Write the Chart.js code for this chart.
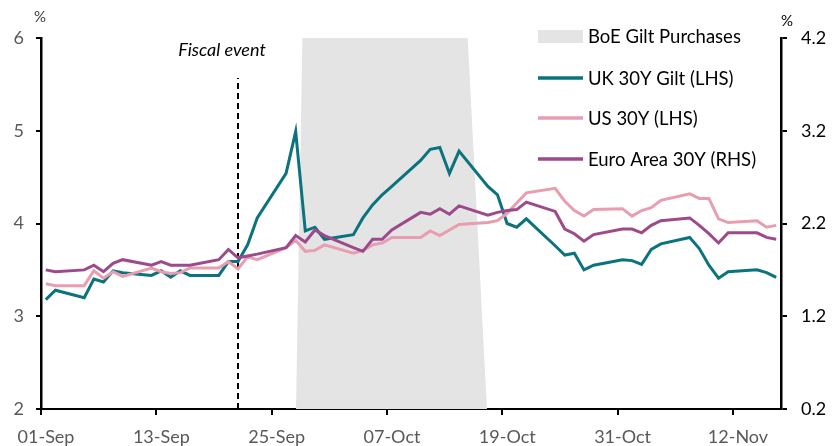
<!DOCTYPE html>
<html><head><meta charset="utf-8">
<script src="https://cdn.jsdelivr.net/npm/chart.js@4.4.1/dist/chart.umd.min.js"></script>
<style>html,body{margin:0;padding:0;background:#fff;}#wrap{position:relative;width:833px;height:446px;}canvas{display:block;}</style>
</head><body><div id="wrap"><canvas id="c" width="833" height="446"></canvas></div>
<script>
// ---- data ----
const dates = [
 '2022-09-01','2022-09-02','2022-09-05','2022-09-06','2022-09-07','2022-09-08','2022-09-09',
 '2022-09-12','2022-09-13','2022-09-14','2022-09-15','2022-09-16',
 '2022-09-19','2022-09-20','2022-09-21','2022-09-22','2022-09-23',
 '2022-09-26','2022-09-27','2022-09-28','2022-09-29','2022-09-30',
 '2022-10-03','2022-10-04','2022-10-05','2022-10-06','2022-10-07',
 '2022-10-10','2022-10-11','2022-10-12','2022-10-13','2022-10-14',
 '2022-10-17','2022-10-18','2022-10-19','2022-10-20','2022-10-21',
 '2022-10-24','2022-10-25','2022-10-26','2022-10-27','2022-10-28',
 '2022-10-31','2022-11-01','2022-11-02','2022-11-03','2022-11-04',
 '2022-11-07','2022-11-08','2022-11-09','2022-11-10','2022-11-11',
 '2022-11-14','2022-11-15','2022-11-16'];
const uk30y = [3.18,3.28,3.20,3.40,3.37,3.49,3.47, 3.44,3.49,3.42,3.49,3.44, 3.44,3.59,3.59,3.77,4.06,
 4.54,4.99,3.92,3.96,3.83, 3.88,4.06,4.20,4.31,4.40, 4.68,4.80,4.82,4.54,4.78,
 4.40,4.31,4.00,3.96,4.05, 3.76,3.66,3.68,3.50,3.55, 3.61,3.60,3.56,3.72,3.78,
 3.85,3.73,3.55,3.41,3.48, 3.50,3.47,3.42];
const us30y = [3.35,3.33,3.33,3.49,3.41,3.48,3.43, 3.52,3.48,3.46,3.47,3.52, 3.52,3.59,3.51,3.64,3.61,
 3.74,3.82,3.70,3.71,3.77, 3.68,3.71,3.77,3.79,3.85, 3.85,3.92,3.87,3.93,3.99,
 4.01,4.03,4.11,4.22,4.33, 4.38,4.24,4.14,4.08,4.15, 4.16,4.08,4.14,4.17,4.25,
 4.32,4.27,4.27,4.05,4.01, 4.03,3.96,3.98];
const ea30y = [1.70,1.68,1.70,1.75,1.68,1.77,1.81, 1.75,1.79,1.75,1.75,1.75, 1.81,1.92,1.83,1.85,1.87,
 1.94,2.07,2.00,2.13,2.07, 1.94,1.90,2.03,2.03,2.13, 2.32,2.30,2.36,2.30,2.39,
 2.29,2.32,2.34,2.35,2.43, 2.33,2.14,2.09,2.01,2.08, 2.14,2.14,2.10,2.18,2.23,
 2.26,2.18,2.09,1.99,2.10, 2.10,2.05,2.03];
const boePurchases = [0,0,0,0,0,0,0, 0,0,0,0,0, 0,0,0,0,0,
 0,0,6,6,6, 6,6,6,6,6, 6,6,6,6,6,
 0,0,0,0,0, 0,0,0,0,0, 0,0,0,0,0, 0,0,0,0,0, 0,0,0];
const axisStart = '2022-09-01';
const axisEnd = '2022-11-17';
const xTickDates = ['2022-09-01','2022-09-13','2022-09-25','2022-10-07','2022-10-19','2022-10-31','2022-11-12'];
const xTickLabels = ['01-Sep','13-Sep','25-Sep','07-Oct','19-Oct','31-Oct','12-Nov'];
const leftTicks = [2,3,4,5,6];
const rightTicks = [0.2,1.2,2.2,3.2,4.2];
const fiscalEventDate = '2022-09-21';
const fiscalEventTop = 5.57;
const seriesNames = ['BoE Gilt Purchases','UK 30Y Gilt (LHS)','US 30Y (LHS)','Euro Area 30Y (RHS)'];

// ---- helpers ----
const DAY = 86400000;
const dayOf = d => (Date.parse(d) - Date.parse(axisStart)) / DAY;
const slot = d => dayOf(d) + 0.5;
const pts = vals => dates.map((d, i) => ({x: slot(d), y: vals[i]}));

const C_UK = '#0b737e', C_US = '#e89db0', C_EA = '#9c4a8b', C_BOE = '#e4e4e4';
const FONT = 'Lato, "Liberation Sans", sans-serif';

const overlay = {
  id: 'overlay',
  afterDraw(chart) {
    const ctx = chart.ctx;
    const xs = chart.scales.x;
    ctx.save();
    // x tick labels (centred on the date slot)
    ctx.font = '18px ' + FONT;
    ctx.fillStyle = '#595959';
    ctx.textAlign = 'center'; ctx.textBaseline = 'middle';
    xTickDates.forEach((d, i) => {
      ctx.fillText(xTickLabels[i], xs.getPixelForValue(dayOf(d)) + 5, 437);
    });
    // percent labels
    ctx.font = '15px ' + FONT;
    ctx.fillStyle = '#404040';
    ctx.fillText('%', 40, 17);
    ctx.fillStyle = '#000';
    ctx.fillText('%', 787, 21);
    // fiscal event label
    const fx = xs.getPixelForValue(slot(fiscalEventDate));
    ctx.font = 'italic 18px ' + FONT;
    ctx.fillStyle = '#000';
    ctx.fillText('Fiscal event', fx - 16, 50);
    // legend
    ctx.textAlign = 'left';
    ctx.font = '18.5px ' + FONT;
    const lx = 538, lw = 45, tx = 588;
    const rows = [36, 78, 118, 159];
    ctx.fillStyle = C_BOE; ctx.fillRect(lx, 30, lw, 13);
    const cols = [null, C_UK, C_US, C_EA];
    for (let i = 1; i < 4; i++) {
      ctx.strokeStyle = cols[i]; ctx.lineWidth = 3.5;
      ctx.beginPath(); ctx.moveTo(lx, rows[i]); ctx.lineTo(lx + lw, rows[i]); ctx.stroke();
    }
    ctx.fillStyle = '#000';
    for (let i = 0; i < 4; i++) ctx.fillText(seriesNames[i], tx, rows[i] + 1);
    ctx.restore();
  }
};

new Chart(document.getElementById('c'), {
  type: 'line',
  data: {
    datasets: [
      {label: seriesNames[3], data: pts(ea30y), yAxisID: 'y1', borderColor: C_EA, borderWidth: 3, pointRadius: 0, tension: 0, order: 0},
      {label: seriesNames[2], data: pts(us30y), yAxisID: 'y', borderColor: C_US, borderWidth: 3, pointRadius: 0, tension: 0, order: 1},
      {label: seriesNames[1], data: pts(uk30y), yAxisID: 'y', borderColor: C_UK, borderWidth: 3, pointRadius: 0, tension: 0, order: 2},
      {label: 'Fiscal event', data: [{x: slot(fiscalEventDate), y: leftTicks[0]}, {x: slot(fiscalEventDate), y: fiscalEventTop}],
        yAxisID: 'y', borderColor: '#000', borderWidth: 2, borderDash: [6, 4], pointRadius: 0, order: 3},
      {label: seriesNames[0], data: pts(boePurchases), yAxisID: 'y1', borderWidth: 0, borderColor: C_BOE,
        backgroundColor: C_BOE, fill: 'start', pointRadius: 0, tension: 0, order: 4}
    ]
  },
  options: {
    responsive: false, animation: false, devicePixelRatio: 1,
    layout: {padding: {top: 38, left: 0, right: 0, bottom: 0}},
    plugins: {legend: {display: false}, tooltip: {enabled: false}},
    scales: {
      x: {
        type: 'linear', min: 0, max: dayOf(axisEnd),
        afterBuildTicks: s => { s.ticks = xTickDates.map(d => ({value: dayOf(d)})); },
        afterFit: s => { s.height = 37; },
        ticks: {display: false},
        grid: {drawOnChartArea: false, drawTicks: true, tickLength: 6, color: '#000', lineWidth: 2},
        border: {display: true, color: '#000', width: 2}
      },
      y: {
        position: 'left', min: 2, max: 6,
        afterBuildTicks: s => { s.ticks = leftTicks.map(v => ({value: v})); },
        afterFit: s => { s.width = 41; },
        ticks: {color: '#595959', font: {family: FONT, size: 18}, padding: 12},
        grid: {drawOnChartArea: false, drawTicks: true, tickLength: 5, color: '#000', lineWidth: 2},
        border: {display: true, color: '#000', width: 2.5}
      },
      y1: {
        position: 'right', min: 0.2, max: 4.2,
        afterBuildTicks: s => { s.ticks = rightTicks.map(v => ({value: v})); },
        afterFit: s => { s.width = 52; },
        ticks: {color: '#000', font: {family: FONT, size: 18}, padding: 14, callback: v => v.toFixed(1)},
        grid: {drawOnChartArea: false, drawTicks: true, tickLength: 6, color: '#000', lineWidth: 2},
        border: {display: true, color: '#000', width: 2.5}
      }
    }
  },
  plugins: [overlay]
});
</script>
</body></html>
